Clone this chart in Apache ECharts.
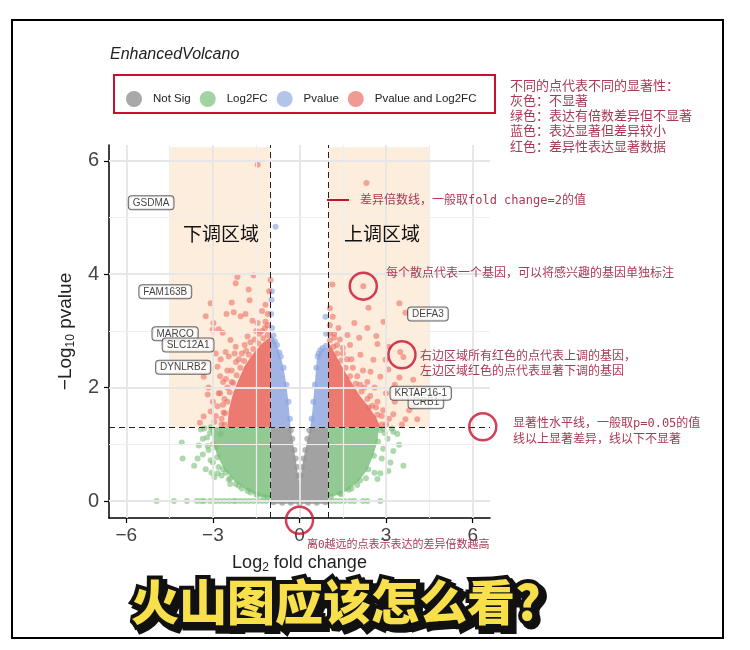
<!DOCTYPE html>
<html>
<head>
<meta charset="utf-8">
<script src="https://cdn.jsdelivr.net/npm/echarts@6.0.0/dist/echarts.min.js"></script>
<style>
  html, body { margin: 0; padding: 0; background: #fff; }
  #chart { width: 750px; height: 650px; }
</style>
</head>
<body>
<div id="chart"></div>
<script>
// axis ticks and grid
const xTicks = [-6, -3, 0, 3, 6];
const xMinor = [-4.5, -1.5, 1.5, 4.5];
const yTicks = [0, 2, 4, 6];
const yMinor = [1, 3, 5];
const fcCutoff = [-1, 1];
const pCutoff = 1.3;

// highlighted up/down regions (log2FC from, to ; -log10p from, to)
const downRegion = [[-4.5, 1.3], [-1, 6.24]];
const upRegion = [[1, 1.3], [4.5, 6.24]];

// dense cores of each group (outline of the packed cloud)
const notSigCore = [[-1,1.3],[-1,-0.05],[1,-0.05],[1,1.3],[0.37,1.3],[0.22,0.95],[0.12,0.7],[0.05,0.45],[0,0.3],[-0.05,0.45],[-0.12,0.7],[-0.2,0.95],[-0.31,1.3]];
const pvalCoreL = [[-1,1.3],[-0.31,1.3],[-0.36,1.6],[-0.42,1.9],[-0.5,2.2],[-0.6,2.45],[-0.75,2.7],[-0.9,2.88],[-1,2.95]];
const pvalCoreR = [[1,1.3],[0.37,1.3],[0.45,1.6],[0.5,1.9],[0.55,2.2],[0.6,2.5],[0.68,2.63],[0.85,2.7],[1,2.7]];
const fcCoreL = [[-1,1.3],[-3.1,1.3],[-3.0,1.05],[-2.85,0.8],[-2.6,0.55],[-2.25,0.35],[-1.8,0.18],[-1.35,0.08],[-1,0.05]];
const fcCoreR = [[1,1.3],[2.75,1.3],[2.7,1.05],[2.55,0.8],[2.35,0.55],[2.05,0.35],[1.65,0.18],[1.3,0.1],[1,0.07]];
const sigCoreL = [[-1,1.3],[-2.5,1.3],[-2.45,1.6],[-2.3,1.9],[-2.1,2.15],[-1.9,2.38],[-1.6,2.6],[-1.3,2.78],[-1,2.9]];
const sigCoreR = [[1,1.3],[2.8,1.3],[2.65,1.48],[2.4,1.66],[2.1,1.85],[1.85,2.05],[1.55,2.3],[1.28,2.55],[1.1,2.72],[1,2.8]];

// individual genes
const notSigPoints = [[-0.3,1.25],[-0.25,1.1],[-0.18,0.9],[-0.13,0.75],[-0.08,0.6],[-0.04,0.45],[0.04,0.45],[0.09,0.6],[0.14,0.75],[0.2,0.9],[0.27,1.1],[0.34,1.25],
  [-0.9,-0.02],[-0.6,-0.03],[-0.3,-0.03],[0,-0.04],[0.3,-0.03],[0.6,-0.03],[0.9,-0.02]];
const pvalPoints = [[-0.33,1.45],[-0.38,1.75],[-0.45,2.05],[-0.55,2.35],[-0.65,2.55],[-0.78,2.75],[-0.9,2.92],[-0.95,3.05],[-0.98,3.3],[-0.97,3.55],[-0.96,3.7],[-0.83,4.84],[-0.85,2.82],[-0.7,2.62],
  [0.42,1.45],[0.48,1.75],[0.53,2.05],[0.58,2.35],[0.63,2.55],[0.72,2.66],[0.8,2.7],[0.92,2.74],[0.92,2.95],[0.9,3.25],[0.66,2.6]];
const fcPoints = [[-4.08,1.03],[-4.05,0.75],[-3.49,0.98],[-3.53,0.75],[-3.65,0.62],[-3.25,0.56],[-3.42,1.26],[-3.3,1.28],[-3.08,1.3],[-3.2,1.12],[-3.15,0.9],[-3.35,1.1],[-3.0,0.68],[-2.9,0.95],[-2.8,0.6],[-2.73,1.18],[-2.95,0.42],[-2.7,0.45],[-2.45,0.38],[-2.55,0.5],[-2.2,0.3],[-2.0,0.22],[-1.7,0.15],[-1.5,0.12],[-1.25,0.08],[-3.35,0.82],[-3.05,0.5],[-2.4,0.3],[-3.18,0.97],[-3.08,0.72],[-2.84,0.49],
  [-1.1,0.06],[-1.45,0.1],[-1.8,0.18],[-2.1,0.27],[-2.4,0.4],[-2.65,0.56],[-2.85,0.77],[-3.0,1.0],[-3.1,1.2],
  [3.6,0.62],[3.45,0.99],[3.25,0.88],[3.39,1.18],[3.15,0.68],[3.08,0.53],[2.7,0.39],[2.95,1.2],[2.9,0.92],[3.05,1.1],[2.85,0.75],[2.6,0.5],[2.3,0.4],[2.0,0.28],[1.7,0.2],[1.4,0.13],[3.2,1.28],[2.9,1.28],[3.25,1.22],[2.8,0.49],
  [1.1,0.08],[1.45,0.12],[1.8,0.22],[2.1,0.36],[2.38,0.56],[2.58,0.8],[2.72,1.05],[2.8,1.25]];
// genes with p = 1 (lying on the zero line)
const fcZeroRow = [-4.95,-4.35,-3.9,-3.55,-3.4,-3.3,-3.1,-2.9,-2.75,-2.6,-2.45,-2.3,-2.2,-2.05,-1.9,-1.75,-1.6,-1.45,-1.3,-1.15,1.1,1.25,1.4,1.55,1.75,1.9,2.2,2.35,2.8];
const sigPoints = [[-1.45,5.93],[-2.15,3.95],[-1.59,3.98],[-2.21,3.84],[-1.0,3.9],[-3.08,3.49],[-2.35,3.5],[-1.76,3.73],[-1.73,3.54],[-1.18,3.46],[-3.25,3.26],[-2.98,3.14],[-2.53,3.3],[-2.28,3.33],[-2.04,3.26],[-1.87,3.3],[-1.45,3.14],[-1.63,3.18],[-1.18,3.16],[-3.01,3.02],[-2.8,3.03],[-2.66,2.97],[-2.39,2.84],[-2.21,2.72],[-2.56,2.63],[-2.73,2.5],[-2.84,2.37],[-3.32,2.19],[-3.25,2.44],[-3.15,2.0],[-3.32,1.49],[-3.08,1.58],[-3.18,1.88],[-2.84,1.67],[-2.63,1.56],[-2.95,1.4],[-2.8,1.9],[-2.65,2.1],[-2.5,2.3],[-2.0,2.6],[-1.8,2.9],[-1.5,3.0],[-1.2,3.05],[-2.9,2.6],[-3.0,1.75],[-2.7,1.35],[-1.05,3.7],[-1.1,3.3],[-1.3,3.35],[-1.9,2.75],[-2.45,2.55],[-2.2,2.45],[-1.55,2.85],[-2.75,2.2],[-3.45,1.38],[-2.6,1.8],[-2.35,2.1],
  [-2.6,1.35],[-2.58,1.55],[-2.5,1.75],[-2.42,1.92],[-2.3,2.08],[-2.18,2.22],[-2.05,2.35],[-1.92,2.47],[-1.75,2.58],[-1.6,2.68],[-1.42,2.78],[-1.25,2.87],[-1.1,2.93],
  [-2.7,1.45],[-2.65,1.7],[-2.5,2.0],[-2.35,2.3],[-2.1,2.5],[-1.85,2.65],[-1.7,2.8],[-1.4,2.95],[-2.9,1.5],[-2.75,1.9],[-2.55,2.15],[-2.25,2.6],[-1.3,3.0],[-1.1,3.1],
  [2.32,5.61],[1.14,3.82],[2.21,3.79],[2.39,3.41],[3.46,3.49],[3.67,3.32],[2.91,3.16],[2.35,3.05],[1.9,3.14],[1.35,3.05],[1.66,2.93],[2.07,2.88],[2.66,2.91],[2.7,2.77],[3.08,2.72],[3.49,2.63],[3.6,2.54],[2.11,2.58],[2.56,2.49],[2.98,2.49],[3.94,2.14],[3.46,2.18],[3.08,2.32],[2.8,2.19],[2.46,2.28],[4.08,1.44],[3.25,1.53],[3.94,1.67],[3.67,1.44],[1.05,3.4],[1.05,3.1],[1.2,2.95],[1.5,2.7],[1.8,2.5],[2.2,2.3],[2.6,2.0],[3.0,1.9],[3.3,1.75],[3.1,1.45],[2.9,1.6],[1.4,2.85],[1.75,2.75],[2.35,2.1],[3.55,1.35],[3.8,1.6],[3.3,2.05],[2.7,1.75],[1.05,2.95],[1.15,3.25],
  [2.85,1.35],[2.7,1.52],[2.52,1.68],[2.35,1.8],[2.15,1.93],[1.95,2.07],[1.75,2.2],[1.6,2.35],[1.45,2.48],[1.3,2.6],[1.18,2.72],[1.05,2.83],
  [3.0,1.35],[2.85,1.5],[2.65,1.65],[2.45,1.85],[2.25,2.0],[2.0,2.2],[1.85,2.35],[1.65,2.5],[1.5,2.6],[1.3,2.75],[1.2,2.88],[2.4,1.65],[2.1,2.05]];

// labelled genes: name and label centre
const geneNames = ['GSDMA', 'FAM163B', 'MARCO', 'SLC12A1', 'DYNLRB2', 'DEFA3', 'CRB1', 'KRTAP16-1'];
const geneLabelX = [-5.14, -4.65, -4.31, -3.86, -4.03, 4.45, 4.38, 4.2];
const geneLabelY = [5.26, 3.69, 2.95, 2.75, 2.36, 3.3, 1.75, 1.9];

// red hand-drawn circles (centre in data units)
const circleMarks = [[2.21, 3.79], [3.55, 2.58], [6.35, 1.31], [0, -0.34]];

const legendNames = ['Not Sig', 'Log2FC', 'Pvalue', 'Pvalue and Log2FC'];
const legendColors = ['#a9a9a9', '#a3d3a3', '#b3c3ea', '#f09a94'];

const noteColor = '#a83a55';
const noteFont = "'DejaVu Sans Mono', 'Noto Sans CJK SC', monospace";
const cjk = "'Noto Sans CJK SC', sans-serif";
const sans = "'Liberation Sans', Arial, sans-serif";

const chart = echarts.init(document.getElementById('chart'));

const fmt = v => (v < 0 ? '\u2212' + Math.abs(v) : String(v));

function core(name, outline, color) {
  return {
    name, type: 'custom', z: 3, silent: true,
    data: outline,
    renderItem: (params, api) => {
      if (params.dataIndex !== 0) return;
      return { type: 'polygon', shape: { points: outline.map(p => api.coord(p)) }, style: { fill: color } };
    }
  };
}

function dots(name, data, color) {
  return { name, type: 'scatter', z: 4, symbolSize: 6, data, itemStyle: { color }, silent: true };
}

function note(x, y, text, size) {
  return { type: 'text', x, y, z: 50, style: { text, fill: noteColor, font: `${size || 12}px ${noteFont}`, verticalAlign: 'middle' } };
}

const option = {
  animation: false,
  grid: { left: 109, right: 260, top: 145, bottom: 132 },
  legend: {
    left: 121, top: 86, itemWidth: 28, itemHeight: 16, itemGap: 9,
    selectedMode: false,
    textStyle: { fontSize: 11.5, color: '#222', fontFamily: sans },
    data: legendNames.map((n, i) => ({ name: n, icon: 'circle', itemStyle: { color: legendColors[i] } }))
  },
  xAxis: {
    type: 'value', min: -6.6, max: 6.6,
    axisLine: { onZero: false, lineStyle: { color: '#000', width: 1.5 } },
    axisTick: { customValues: xTicks, length: 5, lineStyle: { color: '#000', width: 1.2 } },
    axisLabel: { customValues: xTicks, formatter: fmt, fontSize: 19, color: '#444', fontFamily: sans, margin: 8 },
    splitLine: { show: false },
    name: 'Log{sub|2} fold change', nameLocation: 'middle', nameGap: 34,
    nameTextStyle: { fontSize: 18, color: '#222', fontFamily: sans, rich: { sub: { fontSize: 12, padding: [10, 0, 0, 0] } } }
  },
  yAxis: {
    type: 'value', min: -0.3, max: 6.28,
    axisLine: { onZero: false, lineStyle: { color: '#000', width: 1.5 } },
    axisTick: { customValues: yTicks, length: 5, lineStyle: { color: '#000', width: 1.2 } },
    axisLabel: { customValues: yTicks, formatter: fmt, fontSize: 20, color: '#444', fontFamily: sans, margin: 10 },
    splitLine: { show: false },
    name: '\u2212Log{sub|10} pvalue', nameLocation: 'middle', nameGap: 29,
    nameTextStyle: { fontSize: 19, color: '#222', fontFamily: sans, rich: { sub: { fontSize: 12, padding: [10, 0, 0, 0] } } }
  },
  series: [
    {
      name: 'grid', type: 'scatter', data: [], z: 1, silent: true,
      markLine: {
        silent: true, symbol: 'none', label: { show: false },
        data: [
          ...xTicks.map(v => ({ xAxis: v, lineStyle: { color: '#e6e6e6', width: 1.8, type: 'solid' } })),
          ...xMinor.map(v => ({ xAxis: v, lineStyle: { color: '#eeeeee', width: 1.2, type: 'solid' } })),
          ...yTicks.map(v => ({ yAxis: v, lineStyle: { color: '#e6e6e6', width: 1.8, type: 'solid' } })),
          ...yMinor.map(v => ({ yAxis: v, lineStyle: { color: '#eeeeee', width: 1.2, type: 'solid' } }))
        ]
      }
    },
    {
      name: 'regions', type: 'scatter', data: [], z: 2, silent: true,
      markArea: {
        silent: true, itemStyle: { color: 'rgba(250,215,180,0.45)' },
        data: [
          [{ xAxis: downRegion[0][0], yAxis: downRegion[0][1] }, { xAxis: downRegion[1][0], yAxis: downRegion[1][1] }],
          [{ xAxis: upRegion[0][0], yAxis: upRegion[0][1] }, { xAxis: upRegion[1][0], yAxis: upRegion[1][1] }]
        ]
      }
    },
    core('Not Sig', notSigCore, '#a2a2a2'),
    core('Log2FC', fcCoreL, '#93c993'),
    core('Log2FC', fcCoreR, '#93c993'),
    core('Pvalue', pvalCoreL, '#a1b4e4'),
    core('Pvalue', pvalCoreR, '#a1b4e4'),
    core('Pvalue and Log2FC', sigCoreL, '#ec7a71'),
    core('Pvalue and Log2FC', sigCoreR, '#ec7a71'),
    dots('Not Sig', notSigPoints, 'rgba(150,150,150,0.85)'),
    dots('Log2FC', fcPoints.concat(fcZeroRow.map(x => [x, 0])), 'rgba(120,190,120,0.75)'),
    dots('Pvalue', pvalPoints, 'rgba(140,163,224,0.8)'),
    dots('Pvalue and Log2FC', sigPoints, 'rgba(234,105,95,0.7)'),
    {
      name: 'cutoffs', type: 'scatter', data: [], z: 6, silent: true,
      markLine: {
        silent: true, symbol: 'none', label: { show: false },
        lineStyle: { color: '#222', width: 1, type: [6, 4] },
        data: [...fcCutoff.map(v => ({ xAxis: v })), { yAxis: pCutoff }]
      }
    },
    {
      name: 'genes', type: 'scatter', z: 7, symbolSize: 0, silent: true,
      data: geneNames.map((n, i) => ({ name: n, value: [geneLabelX[i], geneLabelY[i]] })),
      label: {
        show: true, position: 'inside', formatter: p => p.name,
        fontSize: 10, color: '#111', fontFamily: sans,
        backgroundColor: '#fff', borderColor: '#444', borderWidth: 1, borderRadius: 3, padding: [2, 4, 1, 4]
      }
    },
    {
      name: 'circles', type: 'scatter', z: 8, symbolSize: 27, clip: false, silent: true,
      data: circleMarks,
      itemStyle: { color: 'rgba(0,0,0,0)', borderColor: '#c8102e', borderWidth: 2.5 }
    }
  ],
  graphic: [
    { type: 'rect', shape: { x: 12, y: 20, width: 711, height: 618 }, style: { fill: null, stroke: '#000', lineWidth: 2 }, z: 100 },
    { type: 'text', x: 110, y: 55, style: { text: 'EnhancedVolcano', font: `italic 16px ${sans}`, fill: '#222', verticalAlign: 'middle' } },
    { type: 'rect', shape: { x: 114, y: 75, width: 381, height: 38 }, style: { fill: null, stroke: '#c8102e', lineWidth: 2 } },
    note(510, 87, '不同的点代表不同的显著性：', 13),
    note(510, 102, '灰色：不显著', 13),
    note(510, 117, '绿色：表达有倍数差异但不显著', 13),
    note(510, 132, '蓝色：表达显著但差异较小', 13),
    note(510, 148, '红色：差异性表达显著数据', 13),
    { type: 'line', shape: { x1: 327, y1: 200, x2: 349, y2: 200 }, style: { stroke: '#c8102e', lineWidth: 2 }, z: 50 },
    note(360, 201, '差异倍数线，一般取fold change=2的值'),
    { type: 'text', x: 183, y: 234, z: 50, style: { text: '下调区域', font: `19px ${cjk}`, fill: '#111', verticalAlign: 'middle' } },
    { type: 'text', x: 344, y: 234, z: 50, style: { text: '上调区域', font: `19px ${cjk}`, fill: '#111', verticalAlign: 'middle' } },
    note(386, 274, '每个散点代表一个基因，可以将感兴趣的基因单独标注'),
    note(420, 357, '右边区域所有红色的点代表上调的基因，'),
    note(420, 372, '左边区域红色的点代表显著下调的基因'),
    note(513, 424, '显著性水平线，一般取p=0.05的值'),
    note(513, 440, '线以上显著差异，线以下不显著'),
    note(307, 545, '离0越远的点表示表达的差异倍数越高', 11),
    { type: 'text', x: 135, y: 606, z: 60, style: { text: '火山图应该怎么看?', font: `900 48px ${cjk}`, fill: '#111', stroke: '#111', lineWidth: 9, verticalAlign: 'middle' } },
    { type: 'text', x: 131, y: 602, z: 61, style: { text: '火山图应该怎么看?', font: `900 48px ${cjk}`, fill: '#111', stroke: '#111', lineWidth: 8, verticalAlign: 'middle' } },
    { type: 'text', x: 131, y: 602, z: 62, style: { text: '火山图应该怎么看?', font: `900 48px ${cjk}`, fill: '#f7e04c', verticalAlign: 'middle' } }
  ]
};

chart.setOption(option);
</script>
</body>
</html>
